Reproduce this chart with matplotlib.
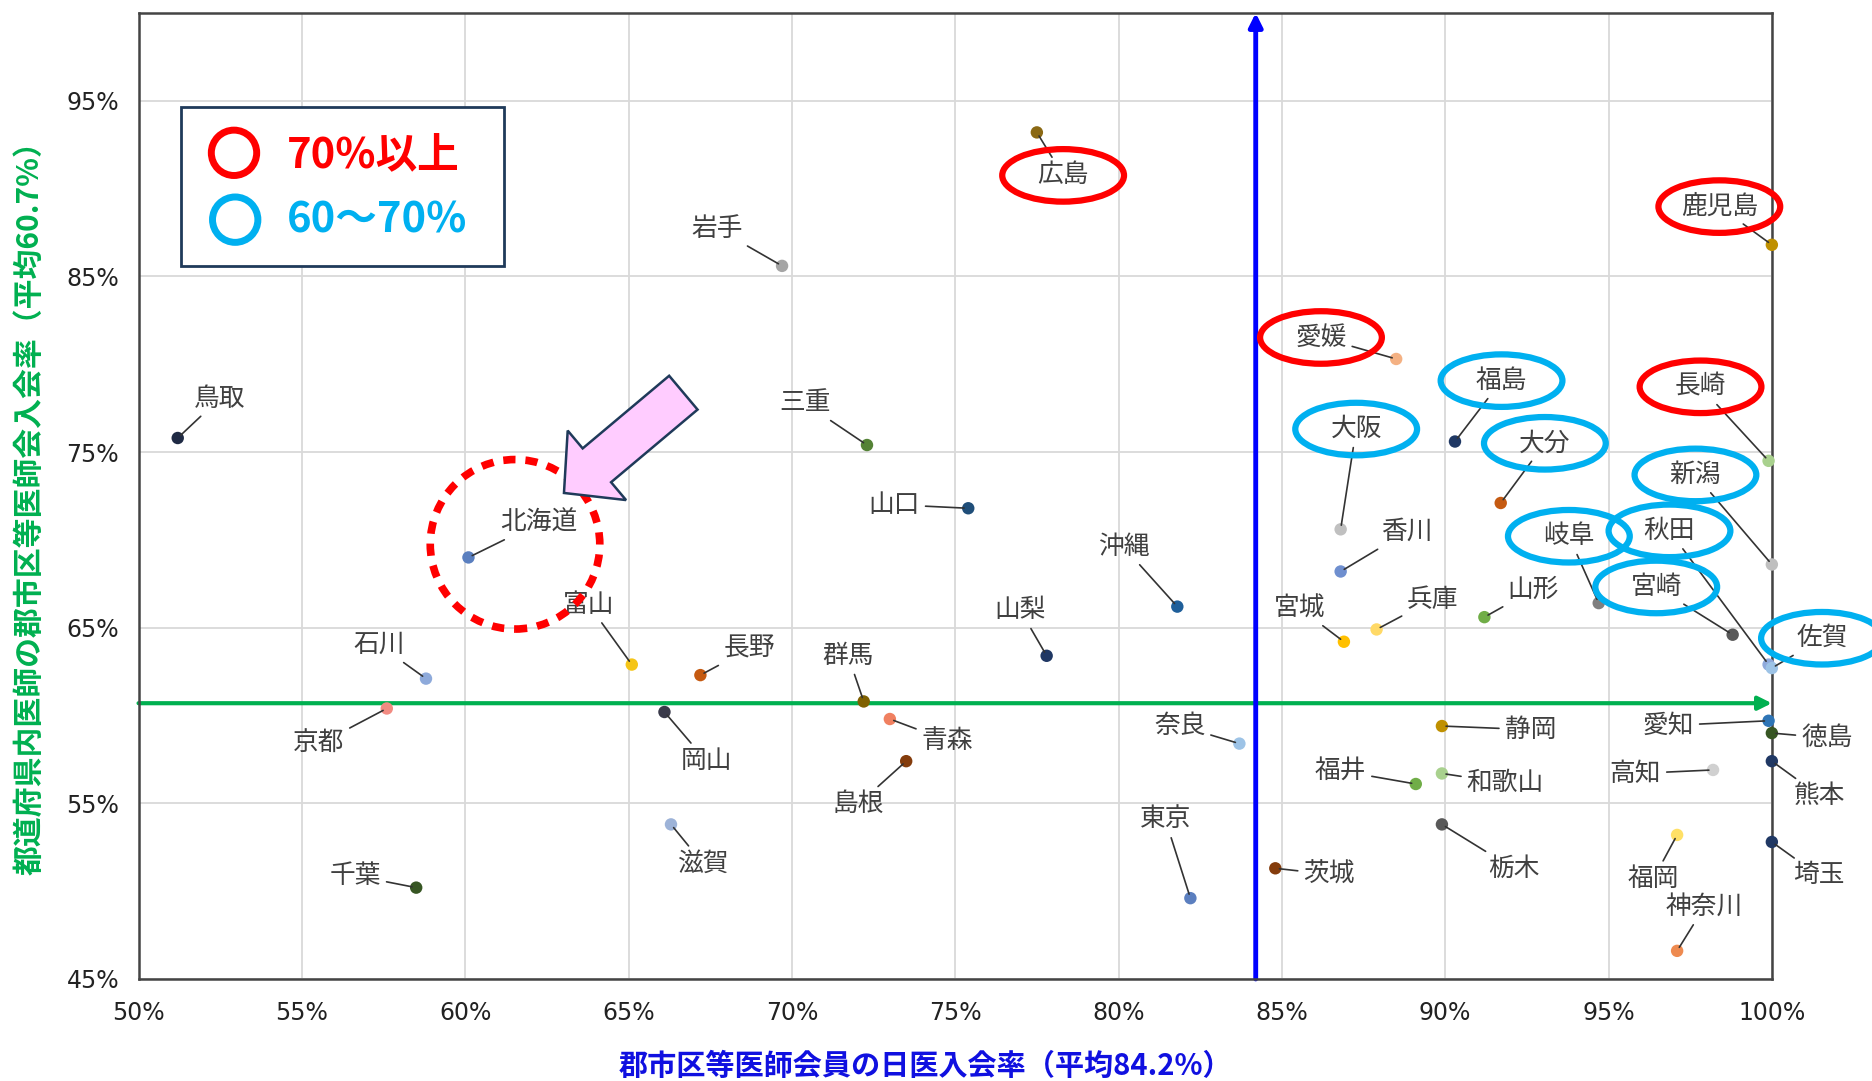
import matplotlib
matplotlib.use("Agg")
import matplotlib.pyplot as plt
from matplotlib.patches import Ellipse, Circle, Rectangle, FancyArrow
from matplotlib.transforms import IdentityTransform
import numpy as np

plt.rcParams['font.family'] = ['Noto Sans CJK JP', 'DejaVu Sans']

# 郡市区等医師会員の日医入会率 / 都道府県内医師の郡市区等医師会入会率 (%)
names = ['鳥取', '北海道', '石川', '京都', '千葉', '富山', '長野', '岡山', '滋賀',
         '岩手', '三重', '群馬', '青森', '島根', '山口', '広島', '山梨', '沖縄',
         '奈良', '東京', '茨城', '愛媛', '大阪', '香川', '宮城', '兵庫', '福島',
         '大分', '山形', '静岡', '福井', '和歌山', '栃木', '岐阜', '宮崎', '鹿児島',
         '長崎', '新潟', '秋田', '佐賀', '愛知', '徳島', '高知', '熊本', '埼玉',
         '福岡', '神奈川']
x_rate = [51.2, 60.1, 58.8, 57.6, 58.5, 65.1, 67.2, 66.1, 66.3,
          69.7, 72.3, 72.2, 73.0, 73.5, 75.4, 77.5, 77.8, 81.8,
          83.7, 82.2, 84.8, 88.5, 86.8, 86.8, 86.9, 87.9, 90.3,
          91.7, 91.2, 89.9, 89.1, 89.9, 89.9, 94.7, 98.8, 100.0,
          99.9, 100.0, 99.9, 100.0, 99.9, 100.0, 98.2, 100.0, 100.0,
          97.1, 97.1]
y_rate = [75.8, 69.0, 62.1, 60.4, 50.2, 62.9, 62.3, 60.2, 53.8,
          85.6, 75.4, 60.8, 59.8, 57.4, 71.8, 93.2, 63.4, 66.2,
          58.4, 49.6, 51.3, 80.3, 70.6, 68.2, 64.2, 64.9, 75.6,
          72.1, 65.6, 59.4, 56.1, 56.7, 53.8, 66.4, 64.6, 86.8,
          74.5, 68.6, 62.9, 62.7, 59.7, 59.0, 56.9, 57.4, 52.8,
          53.2, 46.6]
x_avg = 84.2
y_avg = 60.7
x_ticks = [50, 55, 60, 65, 70, 75, 80, 85, 90, 95, 100]
y_ticks = [45, 55, 65, 75, 85, 95]

red_group = ['広島', '鹿児島', '愛媛', '長崎']
blue_group = ['福島', '大阪', '大分', '新潟', '秋田', '岐阜', '宮崎', '佐賀']

colors = ['#1f2a44', '#5a7fbf', '#8eaadb', '#f28b82', '#375623', '#f5c518', '#c55a11', '#3a3a4a', '#9db3d8',
          '#a5a5a5', '#548235', '#7f6000', '#f08060', '#843c0c', '#1f4e79', '#8b6914', '#203864', '#1f5f9a',
          '#9dc3e6', '#5b7fbf', '#843c0c', '#f4b183', '#c0c0c0', '#6f8fcf', '#ffc000', '#ffd966', '#1f3864',
          '#c55a11', '#70ad47', '#bf9000', '#70ad47', '#a9d18e', '#595959', '#7f7f7f', '#595959', '#bf9000',
          '#a9d18e', '#bfbfbf', '#8faadc', '#9dc3e6', '#2e75b6', '#375623', '#d0d0d0', '#203864', '#203864',
          '#ffe066', '#ee8a50']

# label offsets from point, in reference pixels (right, up)
offsets = {
    '鳥取': (35, 33), '北海道': (59, 29), '石川': (-39, 28), '京都': (-57, -30), '千葉': (-51, 10),
    '富山': (-36, 50), '長野': (41, 22), '岡山': (35, -41), '滋賀': (27, -33), '岩手': (-54, 31),
    '三重': (-52, 35), '群馬': (-13, 38), '青森': (48, -18), '島根': (-40, -36), '山口': (-62, 3),
    '広島': (22, -36), '山梨': (-22, 38), '沖縄': (-45, 50), '奈良': (-50, 15), '東京': (-21, 66),
    '茨城': (45, -5), '愛媛': (-63, 18), '大阪': (13, 84), '香川': (55, 33), '宮城': (-37, 28),
    '兵庫': (47, 25), '福島': (39, 51), '大分': (37, 50), '山形': (41, 23), '静岡': (74, -3),
    '福井': (-63, 11), '和歌山': (53, -8), '栃木': (60, -37), '岐阜': (-25, 56), '宮崎': (-64, 40),
    '鹿児島': (-44, 32), '長崎': (-57, 62), '新潟': (-64, 75), '秋田': (-83, 112), '佐賀': (42, 25),
    '愛知': (-84, -4), '徳島': (46, -4), '高知': (-65, -3), '熊本': (40, -29), '埼玉': (39, -28),
    '福岡': (-20, -37), '神奈川': (23, 37),
}

S = 1872 / 1568  # reference px -> output px
PT = S * 72 / 100

fig = plt.figure(figsize=(18.72, 10.81), dpi=100)
ax = fig.add_axes([0.074, 0.0944, 0.8725, 0.8936])
ax.set_xlim(50, 100)
ax.set_ylim(45, 100)
ax.set_xticks(x_ticks)
ax.set_yticks(y_ticks)
ax.set_xticklabels([f'{t}%' for t in x_ticks])
ax.set_yticklabels([f'{t}%' for t in y_ticks])
ax.tick_params(length=0, labelsize=17, colors='#222222')
ax.tick_params(axis='x', pad=16)
ax.tick_params(axis='y', pad=14)
for lab in ax.get_xticklabels() + ax.get_yticklabels():
    lab.set_family(['Liberation Sans Narrow', 'DejaVu Sans'])
ax.grid(True, color='#d9d9d9', lw=1.3)
ax.set_axisbelow(True)
for sp in ax.spines.values():
    sp.set_color('#444444')
    sp.set_linewidth(1.8)

ax.set_xlabel('郡市区等医師会員の日医入会率（平均84.2%）', color='#1010e0',
              fontsize=21, fontweight='bold')
ax.xaxis.set_label_coords(0.482, -0.0905)
ax.xaxis.label.set_va('center')
ax.set_ylabel('都道府県内医師の郡市区等医師会入会率（平均60.7%）', color='#00b050',
              fontsize=21.5, fontweight='bold')
ax.yaxis.set_label_coords(-0.0665, 0.495)
ax.yaxis.label.set_va('center')

# average lines
ax.annotate('', xy=(100, y_avg), xytext=(50, y_avg),
            arrowprops=dict(arrowstyle='-|>,head_length=0.8,head_width=0.4', color='#00b050', lw=3,
                            shrinkA=0, shrinkB=0), zorder=2)
ax.annotate('', xy=(x_avg, 100), xytext=(x_avg, 45),
            arrowprops=dict(arrowstyle='-|>,head_length=0.8,head_width=0.4', color='#0000ff', lw=3.5,
                            shrinkA=0, shrinkB=0), zorder=2)

ax.scatter(x_rate, y_rate, s=80, c=colors, edgecolors='none', zorder=4, clip_on=False)

for n, xv, yv in zip(names, x_rate, y_rate):
    dx, dy = offsets[n]
    ax.annotate(n, xy=(xv, yv), xytext=(dx * PT, dy * PT), textcoords='offset points',
                ha='center', va='center', fontsize=18.5, color='#404040', zorder=5,
                annotation_clip=False,
                arrowprops=dict(arrowstyle='-', color='#333333', lw=1.2, shrinkA=2, shrinkB=3))

# ellipses around highlighted labels
fig.canvas.draw()
for n, xv, yv in zip(names, x_rate, y_rate):
    if n in red_group or n in blue_group:
        px, py = ax.transData.transform((xv, yv))
        dx, dy = offsets[n]
        col = '#ff0000' if n in red_group else '#00b0f0'
        fig.add_artist(Ellipse((px + dx * S, py + dy * S), 102 * S, 44 * S, fill=False,
                               ec=col, lw=4.5, transform=IdentityTransform(), zorder=6))

# dotted circle and pointer arrow for 北海道
i = names.index('北海道')
hx, hy = ax.transData.transform((x_rate[i], y_rate[i]))
fig.add_artist(Circle((hx + 39 * S, hy + 11 * S), 71 * S, fill=False, ec='#ff0000', lw=5.5,
                      ls=(0, (1.6, 1.3)), transform=IdentityTransform(), zorder=6))
tail = np.array([hx + 180 * S, hy + 138 * S])
tip = np.array([hx + 80 * S, hy + 54 * S])
fig.add_artist(FancyArrow(tail[0], tail[1], tip[0] - tail[0], tip[1] - tail[1],
                          width=37 * S, head_width=76 * S, head_length=36 * S,
                          length_includes_head=True, fc='#ffccff', ec='#1f3a5a', lw=1.8,
                          transform=IdentityTransform(), zorder=6))

# legend box
H = 1081
fig.add_artist(Rectangle((152 * S, H - 223 * S), 270 * S, 133 * S, fc='white', ec='#1f3a5a',
                         lw=2, transform=IdentityTransform(), zorder=7))
fig.add_artist(Circle((196 * S, H - 128 * S), 19 * S, fill=False, ec='#ff0000', lw=5,
                      transform=IdentityTransform(), zorder=8))
fig.add_artist(Circle((197 * S, H - 184 * S), 19 * S, fill=False, ec='#00b0f0', lw=5,
                      transform=IdentityTransform(), zorder=8))
fig.text(240 * S, H - 130 * S, '70%以上', color='#ff0000', fontsize=30, fontweight='bold',
         va='center', ha='left', transform=IdentityTransform(), zorder=8)
fig.text(240 * S, H - 185 * S, '60～70%', color='#00b0f0', fontsize=30, fontweight='bold',
         va='center', ha='left', transform=IdentityTransform(), zorder=8)

fig.savefig('out.png', dpi=100)
